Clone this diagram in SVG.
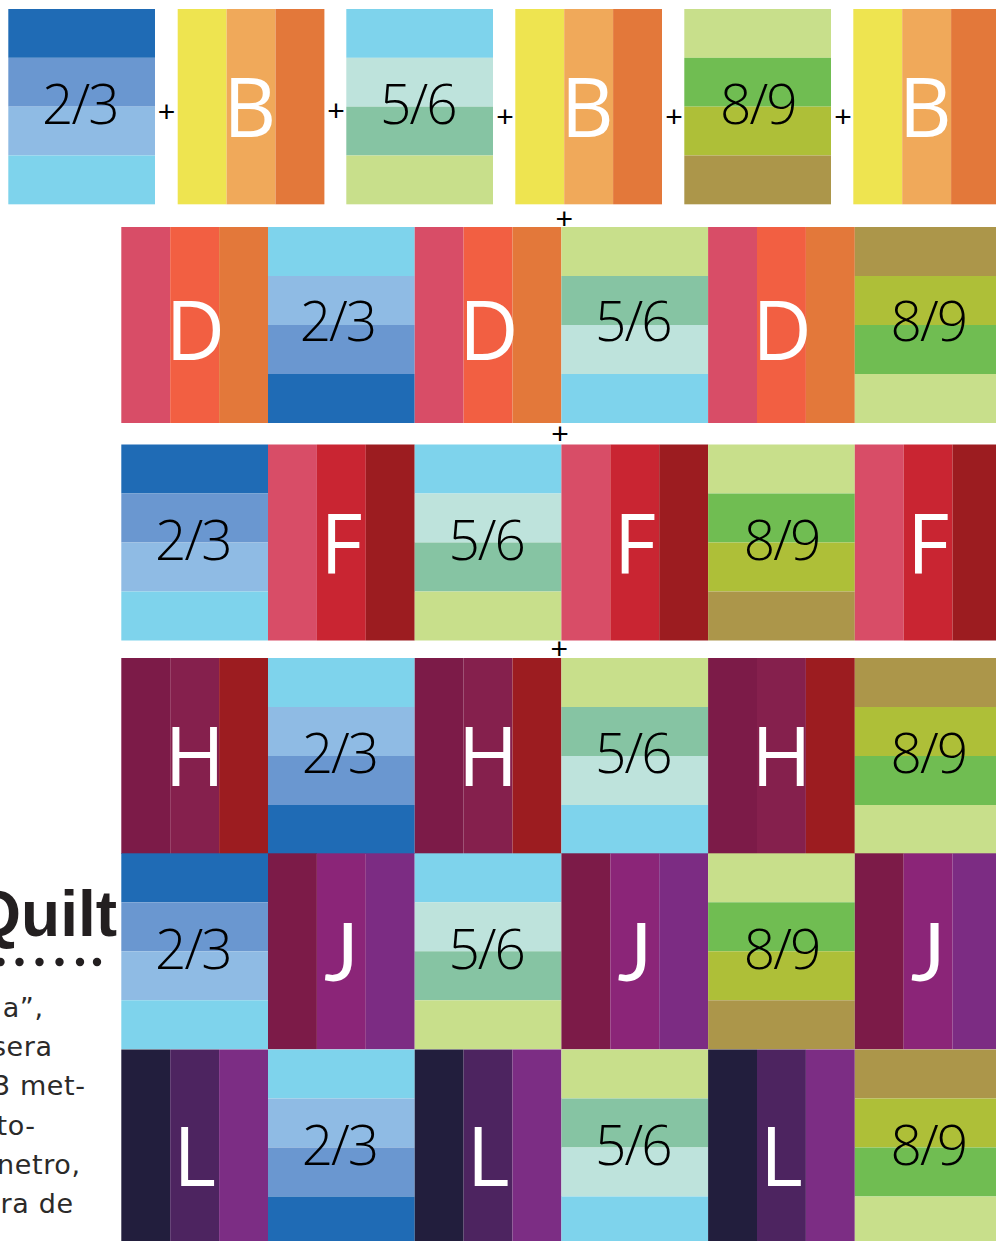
<svg xmlns="http://www.w3.org/2000/svg" xmlns:xlink="http://www.w3.org/1999/xlink" width="996" height="1241" viewBox="0 0 996 1241">
<style>
.num{font-family:"Open Sans","Liberation Sans",sans-serif;font-weight:300;font-size:55px;fill:#000;text-anchor:middle;letter-spacing:-2px}
.let{font-family:"Open Sans","Liberation Sans",sans-serif;font-size:82px;fill:#fff;text-anchor:middle}
.jl{font-family:Lato,"Open Sans",sans-serif}
.plus{font-family:"Liberation Sans",sans-serif;font-size:30px;fill:#000;text-anchor:middle}
.body{font-family:"DejaVu Sans",sans-serif;font-size:27px;fill:#2b2a29;text-anchor:end;letter-spacing:0.6px}
.b1{fill:#1f6bb5}.b2{fill:#6a97d0}.b3{fill:#8fbbe4}.b4{fill:#7ed3ec}
.mi{fill:#bee3dc}.te{fill:#86c4a3}.lg{fill:#c8df8b}.gr{fill:#70bd52}.ol{fill:#aebf38}.kh{fill:#ac964a}
.ye{fill:#eee450}.lo{fill:#f0a95a}.or{fill:#e3783a}
.pk{fill:#d84d67}.ro{fill:#f25f42}.rd{fill:#c92532}.dr{fill:#9c1c20}
.m1{fill:#7c1b48}.m2{fill:#85204d}.j2{fill:#8b2578}.j3{fill:#7c2c83}
.l1{fill:#221e3d}.l2{fill:#4d2460}.l3{fill:#7c2d84}
</style>
<defs>
<g id="v23"><rect class="b1" width="146.7" height="49"/><rect class="b2" y="49" width="146.7" height="49"/><rect class="b3" y="98" width="146.7" height="49"/><rect class="b4" y="147" width="146.7" height="49"/></g>
<g id="v23r"><rect class="b4" width="146.7" height="49"/><rect class="b3" y="49" width="146.7" height="49"/><rect class="b2" y="98" width="146.7" height="49"/><rect class="b1" y="147" width="146.7" height="49"/></g>
<g id="v56"><rect class="b4" width="146.7" height="49"/><rect class="mi" y="49" width="146.7" height="49"/><rect class="te" y="98" width="146.7" height="49"/><rect class="lg" y="147" width="146.7" height="49"/></g>
<g id="v56r"><rect class="lg" width="146.7" height="49"/><rect class="te" y="49" width="146.7" height="49"/><rect class="mi" y="98" width="146.7" height="49"/><rect class="b4" y="147" width="146.7" height="49"/></g>
<g id="v89"><rect class="lg" width="146.7" height="49"/><rect class="gr" y="49" width="146.7" height="49"/><rect class="ol" y="98" width="146.7" height="49"/><rect class="kh" y="147" width="146.7" height="49"/></g>
<g id="v89r"><rect class="kh" width="146.7" height="49"/><rect class="ol" y="49" width="146.7" height="49"/><rect class="gr" y="98" width="146.7" height="49"/><rect class="lg" y="147" width="146.7" height="49"/></g>
<g id="vB"><rect class="ye" width="48.9" height="196"/><rect class="lo" x="48.9" width="48.9" height="196"/><rect class="or" x="97.8" width="48.9" height="196"/></g>
<g id="vD"><rect class="pk" width="48.9" height="196"/><rect class="ro" x="48.9" width="48.9" height="196"/><rect class="or" x="97.8" width="48.9" height="196"/></g>
<g id="vF"><rect class="pk" width="48.9" height="196"/><rect class="rd" x="48.9" width="48.9" height="196"/><rect class="dr" x="97.8" width="48.9" height="196"/></g>
<g id="vH"><rect class="m1" width="48.9" height="196"/><rect class="m2" x="48.9" width="48.9" height="196"/><rect class="dr" x="97.8" width="48.9" height="196"/></g>
<g id="vJ"><rect class="m1" width="48.9" height="196"/><rect class="j2" x="48.9" width="48.9" height="196"/><rect class="j3" x="97.8" width="48.9" height="196"/></g>
<g id="vL"><rect class="l1" width="48.9" height="196"/><rect class="l2" x="48.9" width="48.9" height="196"/><rect class="l3" x="97.8" width="48.9" height="196"/></g>
</defs>
<rect width="996" height="1241" fill="#fff"/>

<!-- Row 1 -->
<g id="r1c1" transform="translate(8.3,9) scale(1,0.9965)"><use xlink:href="#v23"/><text class="num" x="71.5" y="115">2/3</text></g>
<g id="r1c2" transform="translate(177.7,9) scale(1,0.9965)"><use xlink:href="#vB"/><text class="let" x="72" y="128">B</text></g>
<g id="r1c3" transform="translate(346.3,9) scale(1,0.9965)"><use xlink:href="#v56"/><text class="num" x="71.5" y="115">5/6</text></g>
<g id="r1c4" transform="translate(515.3,9) scale(1,0.9965)"><use xlink:href="#vB"/><text class="let" x="72" y="128">B</text></g>
<g id="r1c5" transform="translate(684.3,9) scale(1,0.9965)"><use xlink:href="#v89"/><text class="num" x="73.5" y="115">8/9</text></g>
<g id="r1c6" transform="translate(853.3,9) scale(1,0.9965)"><use xlink:href="#vB"/><text class="let" x="72" y="128">B</text></g>

<!-- Row 2 -->
<g id="r2c1" transform="translate(121.3,227)"><use xlink:href="#vD"/><text class="let" x="74" y="133">D</text></g>
<g id="r2c2" transform="translate(268,227)"><use xlink:href="#v23r"/><text class="num" x="69.5" y="114">2/3</text></g>
<g id="r2c3" transform="translate(414.7,227)"><use xlink:href="#vD"/><text class="let" x="74" y="133">D</text></g>
<g id="r2c4" transform="translate(561.4,227)"><use xlink:href="#v56r"/><text class="num" x="71.5" y="114">5/6</text></g>
<g id="r2c5" transform="translate(708.1,227)"><use xlink:href="#vD"/><text class="let" x="74" y="133">D</text></g>
<g id="r2c6" transform="translate(854.8,227)"><use xlink:href="#v89r"/><text class="num" x="73.5" y="114">8/9</text></g>

<!-- Row 3 -->
<g id="r3c1" transform="translate(121.3,444.5)"><use xlink:href="#v23"/><text class="num" x="71.5" y="115">2/3</text></g>
<g id="r3c2" transform="translate(268,444.5)"><use xlink:href="#vF"/><text class="let" x="73.4" y="128">F</text></g>
<g id="r3c3" transform="translate(414.7,444.5)"><use xlink:href="#v56"/><text class="num" x="71.5" y="115">5/6</text></g>
<g id="r3c4" transform="translate(561.4,444.5)"><use xlink:href="#vF"/><text class="let" x="73.4" y="128">F</text></g>
<g id="r3c5" transform="translate(708.1,444.5)"><use xlink:href="#v89"/><text class="num" x="73.5" y="115">8/9</text></g>
<g id="r3c6" transform="translate(854.8,444.5)"><use xlink:href="#vF"/><text class="let" x="73.4" y="128">F</text></g>

<!-- Row 4 -->
<g id="r4c1" transform="translate(121.3,658)"><use xlink:href="#vH"/><text class="let" x="73.4" y="128">H</text></g>
<g id="r4c2" transform="translate(268,658)"><use xlink:href="#v23r"/><text class="num" x="71.5" y="115">2/3</text></g>
<g id="r4c3" transform="translate(414.7,658)"><use xlink:href="#vH"/><text class="let" x="73.4" y="128">H</text></g>
<g id="r4c4" transform="translate(561.4,658)"><use xlink:href="#v56r"/><text class="num" x="71.5" y="115">5/6</text></g>
<g id="r4c5" transform="translate(708.1,658)"><use xlink:href="#vH"/><text class="let" x="73.4" y="128">H</text></g>
<g id="r4c6" transform="translate(854.8,658)"><use xlink:href="#v89r"/><text class="num" x="73.5" y="115">8/9</text></g>

<!-- Row 5 -->
<g id="r5c1" transform="translate(121.3,853.3)"><use xlink:href="#v23"/><text class="num" x="71.5" y="115.5">2/3</text></g>
<g id="r5c2" transform="translate(268,853.3)"><use xlink:href="#vJ"/><text class="let jl" x="73.4" y="128">J</text></g>
<g id="r5c3" transform="translate(414.7,853.3)"><use xlink:href="#v56"/><text class="num" x="71.5" y="115.5">5/6</text></g>
<g id="r5c4" transform="translate(561.4,853.3)"><use xlink:href="#vJ"/><text class="let jl" x="73.4" y="128">J</text></g>
<g id="r5c5" transform="translate(708.1,853.3)"><use xlink:href="#v89"/><text class="num" x="73.5" y="115.5">8/9</text></g>
<g id="r5c6" transform="translate(854.8,853.3)"><use xlink:href="#vJ"/><text class="let jl" x="73.4" y="128">J</text></g>

<!-- Row 6 -->
<g id="r6c1" transform="translate(121.3,1049.5)"><use xlink:href="#vL"/><text class="let" x="73.4" y="136.5">L</text></g>
<g id="r6c2" transform="translate(268,1049.5)"><use xlink:href="#v23r"/><text class="num" x="71.5" y="115.5">2/3</text></g>
<g id="r6c3" transform="translate(414.7,1049.5)"><use xlink:href="#vL"/><text class="let" x="73.4" y="136.5">L</text></g>
<g id="r6c4" transform="translate(561.4,1049.5)"><use xlink:href="#v56r"/><text class="num" x="71.5" y="115.5">5/6</text></g>
<g id="r6c5" transform="translate(708.1,1049.5)"><use xlink:href="#vL"/><text class="let" x="73.4" y="136.5">L</text></g>
<g id="r6c6" transform="translate(854.8,1049.5)"><use xlink:href="#v89r"/><text class="num" x="73.5" y="115.5">8/9</text></g>

<!-- plus signs -->
<g id="connectors">
<text class="plus" x="166.5" y="121.5">+</text>
<text class="plus" x="336" y="120.5">+</text>
<text class="plus" x="505" y="126.5">+</text>
<text class="plus" x="674" y="126.5">+</text>
<text class="plus" x="843" y="126.5">+</text>
<text class="plus" x="564.3" y="229">+</text>
<text class="plus" x="560" y="444">+</text>
<text class="plus" x="559.3" y="659.4">+</text>
</g>

<!-- left page text -->
<g id="title">
<text x="117" y="936" text-anchor="end" font-family="Liberation Sans, sans-serif" font-weight="bold" font-size="64" fill="#231f20">Quilt</text>
<g fill="#231f20">
<circle cx="0.5" cy="962" r="4.2"/><circle cx="19.5" cy="962" r="4.2"/><circle cx="39.5" cy="962" r="4.2"/><circle cx="59.5" cy="962" r="4.2"/><circle cx="80" cy="962" r="4.2"/><circle cx="97" cy="962" r="4.2"/>
</g>
</g>
<g id="body-text">
<text class="body" x="43.6" y="1017">a”,</text>
<text class="body" x="52.6" y="1056">sera</text>
<text class="body" x="85.6" y="1095">3 met-</text>
<text class="body" x="35.6" y="1135">to-</text>
<text class="body" x="80.6" y="1174">netro,</text>
<text class="body" x="73.6" y="1213">ra de</text>
</g>
</svg>
